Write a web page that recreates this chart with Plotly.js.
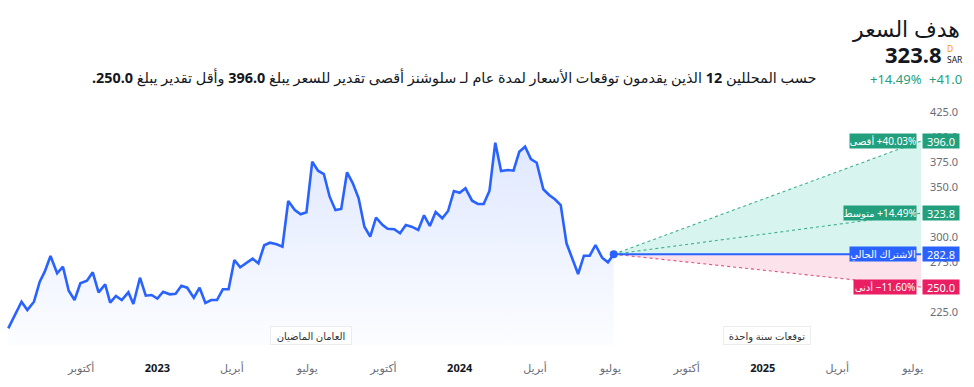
<!DOCTYPE html>
<html>
<head>
<meta charset="utf-8">
<script src="https://cdn.plot.ly/plotly-3.0.1.min.js"></script>
<style>
html,body{margin:0;padding:0;background:#fff;}
#chart{width:974px;height:387px;}
</style>
</head>
<body>
<div id="chart"></div>
<script>
// ---- data ----
const histDates = [
'2022-07-05','2022-07-21','2022-07-28','2022-08-05','2022-08-12','2022-08-18','2022-08-25','2022-09-02','2022-09-09','2022-09-16','2022-09-23','2022-09-30','2022-10-08','2022-10-15','2022-10-22','2022-10-30','2022-11-05','2022-11-12','2022-11-19','2022-11-27','2022-12-03','2022-12-11','2022-12-18','2022-12-25',
'2023-01-01','2023-01-08','2023-01-16','2023-01-23','2023-01-30','2023-02-06','2023-02-14','2023-02-21','2023-02-28','2023-03-07','2023-03-14','2023-03-21','2023-03-28','2023-04-04','2023-04-11','2023-04-18','2023-04-26','2023-05-03','2023-05-10','2023-05-17','2023-05-25','2023-06-01','2023-06-08','2023-06-16','2023-06-23','2023-06-30',
'2023-07-07','2023-07-14','2023-07-21','2023-07-28','2023-08-04','2023-08-11','2023-08-18','2023-08-25','2023-09-01','2023-09-08','2023-09-15','2023-09-22','2023-09-30','2023-10-06','2023-10-14','2023-10-21','2023-10-28','2023-11-04','2023-11-12','2023-11-19','2023-11-26','2023-12-03','2023-12-11','2023-12-18','2023-12-25',
'2024-01-01','2024-01-08','2024-01-16','2024-01-23','2024-01-30','2024-02-06','2024-02-13','2024-02-20','2024-02-28','2024-03-06','2024-03-13','2024-03-20','2024-03-27','2024-04-03','2024-04-11','2024-04-18','2024-04-25','2024-05-02','2024-05-09','2024-05-16','2024-05-23','2024-05-30','2024-06-06','2024-06-13','2024-06-21','2024-06-28','2024-07-05'];
const histPrices = [
208.7,235.3,227,235.3,255.3,265.3,281,263.7,270.3,246.3,237,253.7,256.3,264.7,244.7,252.7,234.3,241,237,244.7,233,259.3,241.3,242,
238.5,245.3,242.7,243.3,251.3,249.3,239.3,249.3,234,237,237,247.7,247.7,277,269.7,273.7,278.3,273.7,291.7,294.3,292.7,290.3,336,327,322.7,324.7,
375.3,366.3,363,340.3,327,328,364.7,353.7,338.7,310.3,300.3,319.3,312,308.3,307.7,303.7,312,310.3,307,321.7,311,325,318.7,326,346,
344.3,348.7,336.3,333,333,346.3,394.3,366,367,366.3,385.3,390.3,378,374.3,347.7,342,337.7,332,293.7,278.7,263,281.3,281.3,292,279.3,274.7,282.8];

const currentDate = '2024-07-05';
const forecastEndDate = '2025-07-11';
const currentPrice = 282.8;
const targetHigh = 396.0;
const targetAvg = 323.8;
const targetLow = 250.0;
const pctHigh = '+40.03%';
const pctAvg = '+14.49%';
const pctLow = '−11.60%';
const changeAbs = '+41.0';

const tickDates = ['2022-10-01','2023-01-01','2023-04-01','2023-07-01','2023-10-01','2024-01-01','2024-04-01','2024-07-01','2024-10-01','2025-01-01','2025-04-01','2025-07-01'];
const tickLabels = ['أكتوبر','2023','أبريل','يوليو','أكتوبر','2024','أبريل','يوليو','أكتوبر','2025','أبريل','يوليو'];
const yTicks = [225,275,300,350,375,400,425];

// ---- styles ----
const FONT = 'Noto Sans, DejaVu Sans, sans-serif';
const BLUE = '#2962ff';
const GREEN = '#22a07e';
const PINK = '#e91e63';
const TXT = '#131722';

const tickText = tickLabels.map(t => /^\d{4}$/.test(t) ? '<b><span style="color:#131722">' + t + '</span></b>' : t);

const traces = [
  { // historical
    x: histDates, y: histPrices, type: 'scatter', mode: 'lines',
    line: {color: BLUE, width: 2.6},
    fill: 'tozeroy',
    fillgradient: {type: 'vertical', start: 192, stop: 400,
      colorscale: [[0, 'rgba(41,98,255,0.015)'], [1, 'rgba(41,98,255,0.15)']]},
    hoverinfo: 'skip'
  },
  { // up area
    x: [currentDate, forecastEndDate, forecastEndDate], y: [currentPrice, targetHigh, currentPrice],
    type: 'scatter', mode: 'lines', fill: 'toself', fillcolor: 'rgba(34,200,160,0.18)',
    line: {width: 0}, hoverinfo: 'skip'
  },
  { // down area
    x: [currentDate, forecastEndDate, forecastEndDate], y: [currentPrice, currentPrice, targetLow],
    type: 'scatter', mode: 'lines', fill: 'toself', fillcolor: 'rgba(233,30,99,0.13)',
    line: {width: 0}, hoverinfo: 'skip'
  },
  { x: [currentDate, forecastEndDate], y: [currentPrice, targetHigh], type: 'scatter', mode: 'lines',
    line: {color: '#3fae8f', width: 1.1, dash: 'dot'}, hoverinfo: 'skip' },
  { x: [currentDate, forecastEndDate], y: [currentPrice, targetAvg], type: 'scatter', mode: 'lines',
    line: {color: '#3fae8f', width: 1.1, dash: 'dot'}, hoverinfo: 'skip' },
  { x: [currentDate, forecastEndDate], y: [currentPrice, targetLow], type: 'scatter', mode: 'lines',
    line: {color: '#e5517f', width: 1.1, dash: 'dot'}, hoverinfo: 'skip' },
  { x: [currentDate, forecastEndDate], y: [currentPrice, currentPrice], type: 'scatter', mode: 'lines',
    line: {color: BLUE, width: 2}, hoverinfo: 'skip' },
  { x: [currentDate], y: [currentPrice], type: 'scatter', mode: 'markers',
    marker: {color: BLUE, size: 8}, hoverinfo: 'skip' }
];

// geometry helpers (plot area: 921 x 245, top at 100)
const PW = 921, PH = 245, PT = 100;
const px = v => v / PW;
const py = v => (PT + PH - v) / PH;

function midDate(a, b) {
  const t = (new Date(a).getTime() + new Date(b).getTime()) / 2;
  return new Date(t).toISOString().slice(0, 10);
}

const annotations = [
  {text: 'هدف السعر', xref: 'paper', yref: 'paper', x: px(962), y: py(28), xanchor: 'right', yanchor: 'middle',
   showarrow: false, font: {size: 22, color: TXT, family: FONT}},
  {text: '<b>' + targetAvg.toFixed(1) + '</b>', xref: 'paper', yref: 'paper', x: px(944), y: py(54), xanchor: 'right', yanchor: 'middle',
   showarrow: false, font: {size: 22, color: TXT, family: FONT}},
  {text: '<span style="color:#ff9800">D</span><br>SAR', xref: 'paper', yref: 'paper', x: px(945), y: py(54),
   xanchor: 'left', yanchor: 'middle', align: 'left',
   showarrow: false, font: {size: 8.5, color: TXT, family: FONT}},
  {text: changeAbs, xref: 'paper', yref: 'paper', x: px(964), y: py(79), xanchor: 'right', yanchor: 'middle',
   showarrow: false, font: {size: 13, color: GREEN, family: FONT}},
  {text: pctAvg, xref: 'paper', yref: 'paper', x: px(924), y: py(79), xanchor: 'right', yanchor: 'middle',
   showarrow: false, font: {size: 13, color: GREEN, family: FONT}},
  {text: 'حسب المحللين <b>12</b> الذين يقدمون توقعات الأسعار لمدة عام لـ سلوشنز أقصى تقدير للسعر يبلغ <b>' + targetHigh.toFixed(1) + '</b> وأقل تقدير يبلغ <b>' + targetLow.toFixed(1) + '.\u200F</b>',
   xref: 'paper', yref: 'paper', x: px(818), y: py(77), xanchor: 'right', yanchor: 'middle',
   showarrow: false, font: {size: 14.4, color: TXT, family: FONT}},
  // right value boxes
  ...[[targetHigh, GREEN], [targetAvg, GREEN], [currentPrice, BLUE], [targetLow, PINK]].map(([v, c]) => ({
    text: v.toFixed(1), xref: 'paper', yref: 'y', x: px(940.5), y: v, xanchor: 'center', yanchor: 'middle',
    showarrow: false, bgcolor: c, width: 36, height: 14, borderpad: 0,
    font: {size: 11, color: '#ffffff', family: FONT}})),
  // label boxes
  ...[['أقصى \u200E' + pctHigh, targetHigh, GREEN, 66],
      ['متوسط \u200E' + pctAvg, targetAvg, GREEN, 72],
      ['الاشتراك الحالي', currentPrice, BLUE, 66],
      ['أدنى \u200E' + pctLow, targetLow, PINK, 62]].map(([t, v, c, w]) => ({
    text: t, xref: 'paper', yref: 'y', x: px(917), y: v, xanchor: 'right', yanchor: 'middle',
    showarrow: false, bgcolor: c, width: w, height: 14, borderpad: 0,
    font: {size: 10, color: '#ffffff', family: FONT}})),
  // period labels
  {text: 'العامان الماضيان', xref: 'x', yref: 'paper', x: midDate(histDates[0], currentDate), y: py(335),
   xanchor: 'center', yanchor: 'middle', showarrow: false, bgcolor: '#ffffff', bordercolor: '#ececf0', borderwidth: 1,
   width: 78, height: 15, font: {size: 10, color: '#333', family: FONT}},
  {text: 'توقعات سنة واحدة', xref: 'x', yref: 'paper', x: midDate(currentDate, forecastEndDate), y: py(335),
   xanchor: 'center', yanchor: 'middle', showarrow: false, bgcolor: '#ffffff', bordercolor: '#ececf0', borderwidth: 1,
   width: 84, height: 15, font: {size: 10, color: '#333', family: FONT}}
];

const layout = {
  width: 974, height: 387,
  margin: {l: 0, r: 53, t: 100, b: 42},
  paper_bgcolor: '#ffffff', plot_bgcolor: '#ffffff',
  showlegend: false,
  font: {family: FONT, color: TXT},
  xaxis: {type: 'date', range: ['2022-06-25', '2025-07-11'], showgrid: false, zeroline: false, showline: false,
    ticks: '', tickvals: tickDates, ticktext: tickText, tickfont: {size: 11, color: '#6a6d78'},
    ticklabelstandoff: 15, fixedrange: true},
  yaxis: {side: 'right', range: [192, 437], showgrid: false, zeroline: false, showline: false, ticks: '',
    tickvals: yTicks, ticktext: yTicks.map(v => v.toFixed(1)), tickfont: {size: 11, color: '#6a6d78'},
    ticklabelstandoff: 8, fixedrange: true},
  annotations: annotations,
  hovermode: false
};

Plotly.newPlot('chart', traces, layout, {staticPlot: true, displayModeBar: false});
</script>
</body>
</html>
